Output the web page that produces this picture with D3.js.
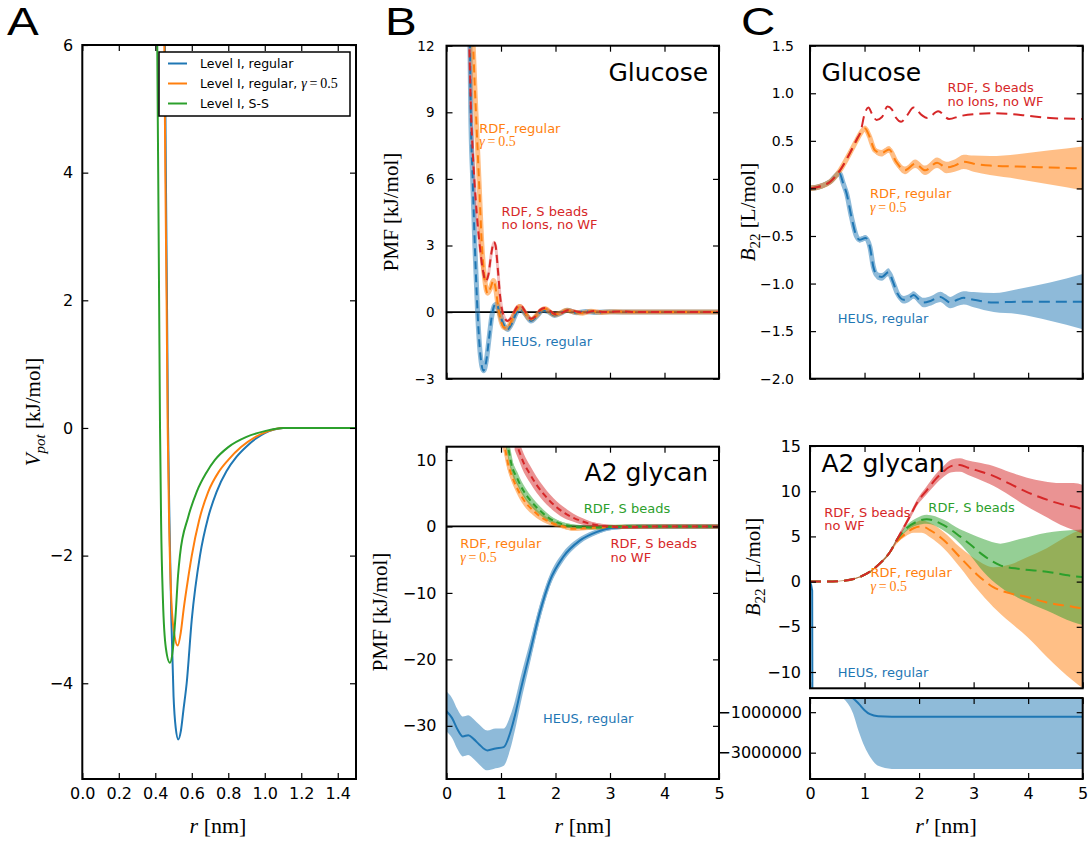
<!DOCTYPE html>
<html>
<head>
<meta charset="utf-8">
<script src="https://cdn.jsdelivr.net/npm/d3@7"></script>
<style>
  body { margin: 0; background: #fff; }
  svg { display: block; }
</style>
</head>
<body>
<svg id="fig" width="1091" height="845"></svg>
<script>
// ---------- data ----------
// panel A: pair potentials, [r nm, V kJ/mol]
var potRegular = [[0.445,9],[0.452,6.3],[0.458,4],[0.464,2],[0.47,0],[0.478,-1.5],[0.488,-3],[0.5,-4.2],[0.512,-4.7],[0.526,-4.88],[0.54,-4.75],[0.555,-4.4],[0.572,-4.0],[0.6,-3.0],[0.645,-2.0],[0.69,-1.4],[0.736,-1.0],[0.79,-0.68],[0.846,-0.45],[0.9,-0.29],[0.95,-0.17],[1.0,-0.08],[1.05,-0.025],[1.1,0],[1.5,0]];
var potGamma = [[0.444,9],[0.449,6.3],[0.455,4],[0.462,2],[0.468,0],[0.476,-1.5],[0.488,-2.7],[0.505,-3.25],[0.523,-3.41],[0.54,-3.2],[0.555,-2.85],[0.575,-2.45],[0.6,-2.0],[0.64,-1.45],[0.69,-1.0],[0.745,-0.7],[0.8,-0.5],[0.87,-0.3],[0.95,-0.14],[1.02,-0.05],[1.1,0],[1.5,0]];
var potSS = [[0.405,9],[0.41,6.3],[0.416,4],[0.421,2],[0.426,0],[0.432,-1.5],[0.442,-2.7],[0.458,-3.45],[0.48,-3.68],[0.497,-3.45],[0.512,-2.9],[0.525,-2.3],[0.535,-2.0],[0.58,-1.4],[0.627,-1.0],[0.68,-0.7],[0.727,-0.5],[0.8,-0.3],[0.9,-0.14],[1.0,-0.05],[1.1,0],[1.5,0]];
var legendA = ['Level I, regular', 'Level I, regular, ', 'Level I, S-S'];

// panel B top: glucose PMF, [r nm, PMF kJ/mol]
var pmfGluHeus = [[0.41,14],[0.43,12],[0.445,9],[0.48,6],[0.52,3],[0.57,0],[0.62,-1.9],[0.68,-2.64],[0.73,-2.2],[0.78,-1.2],[0.83,-0.2],[0.88,0.3],[0.92,0.37],[0.97,0.0],[1.03,-0.45],[1.12,-0.78],[1.2,-0.5],[1.28,-0.05],[1.35,0.15],[1.45,-0.1],[1.55,-0.4],[1.65,-0.2],[1.77,0.08],[1.88,0.0],[1.98,-0.15],[2.1,-0.05],[2.22,0.08],[2.38,-0.03],[2.55,0.03],[2.75,-0.02],[3.0,0.02],[3.4,0],[5,0]];
var pmfGluRdf = [[0.47,13.5],[0.49,12],[0.54,9],[0.595,6],[0.65,3],[0.7,1.5],[0.755,0.85],[0.81,1.1],[0.86,1.42],[0.9,1.1],[0.95,0.2],[1.0,-0.4],[1.06,-0.7],[1.12,-0.72],[1.18,-0.45],[1.26,0.0],[1.34,0.25],[1.42,0.05],[1.5,-0.25],[1.56,-0.33],[1.65,-0.15],[1.75,0.1],[1.82,0.15],[1.9,0.0],[1.98,-0.12],[2.08,-0.05],[2.2,0.08],[2.35,0.0],[2.5,-0.05],[2.65,0.04],[2.85,-0.02],[3.1,0.02],[3.5,0],[5,0]];
var pmfGluSbeads = [[0.41,13],[0.42,12],[0.45,9],[0.48,7.3],[0.51,6],[0.56,4.3],[0.61,3],[0.66,2.0],[0.72,1.4],[0.77,1.7],[0.82,2.6],[0.87,3.15],[0.9,3.0],[0.94,2.0],[0.98,0.8],[1.04,-0.1],[1.12,-0.4],[1.2,-0.2],[1.3,0.25],[1.36,0.3],[1.45,0.0],[1.55,-0.3],[1.63,-0.2],[1.72,0.1],[1.8,0.18],[1.9,0.05],[2.0,-0.1],[2.1,-0.05],[2.25,0.1],[2.4,0.02],[2.55,-0.03],[2.7,0.05],[2.9,0],[3.2,0.03],[3.5,0],[5,0]];

// panel B bottom: A2 glycan PMF, [r nm, PMF, error]
var pmfA2Heus = [[0,-27.8,3],[0.1,-28.8,3],[0.2,-30.5,3],[0.3,-31.6,3],[0.4,-31.4,3],[0.5,-32,3],[0.6,-32.8,3],[0.75,-33.7,3],[0.9,-33.4,3],[1.05,-33.2,2.8],[1.17,-31,2.5],[1.26,-28.3,2.2],[1.35,-25,2],[1.53,-19,1.6],[1.71,-13,1.2],[1.9,-8.1,0.9],[2.14,-4.6,0.7],[2.45,-2.1,0.5],[2.75,-0.85,0.4],[3.05,-0.2,0.3],[3.5,0,0.3],[4,0,0.3],[5,0,0.3]];
var pmfA2Rdf = [[1.03,13,1.2],[1.08,11.5,1.2],[1.13,9.4,1.1],[1.2,7.6,1.0],[1.27,6.2,0.9],[1.35,4.9,0.9],[1.45,3.6,0.8],[1.59,2.4,0.7],[1.7,1.6,0.6],[1.84,0.9,0.5],[1.95,0.45,0.4],[2.08,0.15,0.35],[2.2,-0.15,0.3],[2.32,-0.35,0.3],[2.5,-0.3,0.25],[2.7,-0.2,0.2],[3.0,-0.1,0.2],[3.4,0,0.2],[5,0,0.2]];
var pmfA2Sbeads = [[1.1,13,1.2],[1.14,11.5,1.2],[1.19,9.4,1.1],[1.3,7.2,1.0],[1.41,5.4,0.9],[1.53,4.0,0.8],[1.65,2.9,0.7],[1.78,1.9,0.6],[1.9,1.15,0.5],[2.02,0.65,0.4],[2.14,0.3,0.35],[2.3,0.05,0.3],[2.45,-0.1,0.25],[2.7,-0.15,0.2],[3.0,-0.05,0.2],[3.4,0,0.2],[5,0,0.2]];
var pmfA2SbeadsNoWF = [[1.25,13,1.5],[1.32,11.6,1.5],[1.42,9.5,1.4],[1.53,7.9,1.3],[1.65,6.3,1.2],[1.78,4.9,1.1],[1.9,3.8,1.0],[2.02,2.9,0.9],[2.17,2.0,0.8],[2.33,1.3,0.6],[2.48,0.8,0.5],[2.63,0.4,0.4],[2.8,0.15,0.3],[2.94,0.0,0.25],[3.2,-0.1,0.2],[3.6,-0.05,0.2],[4,0,0.2],[5,0,0.2]];

// panel C top: glucose B22, [r' nm, B22 L/mol, error]
var b22GluHeus = [[0,0,0.03],[0.18,0.02,0.03],[0.37,0.07,0.03],[0.54,0.16,0.03],[0.61,0.05,0.03],[0.67,-0.05,0.03],[0.76,-0.3,0.03],[0.85,-0.5,0.03],[0.91,-0.54,0.03],[1.02,-0.52,0.03],[1.1,-0.62,0.03],[1.16,-0.82,0.03],[1.24,-0.92,0.04],[1.32,-0.93,0.04],[1.44,-0.88,0.04],[1.52,-0.98,0.04],[1.6,-1.1,0.04],[1.72,-1.17,0.04],[1.82,-1.15,0.04],[1.9,-1.12,0.04],[2.0,-1.17,0.045],[2.08,-1.2,0.05],[2.22,-1.18,0.05],[2.39,-1.14,0.055],[2.48,-1.17,0.06],[2.57,-1.2,0.06],[2.7,-1.17,0.065],[2.82,-1.15,0.07],[3.0,-1.17,0.08],[3.37,-1.2,0.1],[3.8,-1.19,0.13],[4.4,-1.19,0.2],[5,-1.19,0.29]];
var b22GluRdf = [[0,0,0.03],[0.18,0.02,0.03],[0.37,0.07,0.03],[0.55,0.19,0.03],[0.73,0.37,0.03],[0.86,0.51,0.03],[0.95,0.6,0.03],[1.01,0.63,0.03],[1.08,0.56,0.03],[1.19,0.4,0.03],[1.31,0.37,0.035],[1.45,0.41,0.035],[1.58,0.28,0.04],[1.74,0.19,0.04],[1.93,0.26,0.045],[2.11,0.19,0.05],[2.33,0.27,0.055],[2.5,0.22,0.06],[2.65,0.24,0.065],[2.82,0.28,0.075],[3.0,0.26,0.085],[3.3,0.24,0.1],[3.8,0.23,0.13],[4.4,0.22,0.18],[5,0.21,0.23]];
var b22GluSbeads = [[0,0],[0.18,0.02],[0.37,0.07],[0.55,0.19],[0.73,0.37],[0.86,0.52],[0.93,0.6],[1.0,0.78],[1.07,0.85],[1.14,0.78],[1.22,0.72],[1.32,0.75],[1.42,0.86],[1.5,0.83],[1.58,0.74],[1.67,0.7],[1.77,0.76],[1.9,0.85],[2.05,0.77],[2.15,0.74],[2.35,0.81],[2.55,0.73],[2.75,0.76],[3.0,0.78],[3.4,0.79],[3.9,0.77],[4.4,0.74],[5,0.73]];

// panel C bottom: A2 glycan B22, [r' nm, B22 L/mol, error]
var b22A2Rdf = [[0,0,0],[0.3,0.01,0],[0.61,0.1,0.02],[0.92,0.53,0.05],[1.1,1.1,0.08],[1.28,2.0,0.1],[1.47,3.3,0.15],[1.59,4.4,0.2],[1.75,5.3,0.3],[1.9,5.9,0.5],[2.05,6.1,0.7],[2.2,5.7,0.8],[2.45,4.6,0.9],[2.75,2.7,1.1],[3.06,0.8,1.6],[3.36,-0.6,2.2],[3.67,-1.3,3.2],[3.98,-1.7,4.4],[4.34,-2.3,6.0],[4.83,-2.8,8.2],[5,-3.0,8.8]];
var b22A2Sbeads = [[0,0,0],[0.3,0.01,0],[0.61,0.1,0.02],[0.92,0.53,0.05],[1.1,1.1,0.08],[1.28,2.0,0.1],[1.47,3.3,0.15],[1.59,4.6,0.2],[1.75,5.8,0.3],[1.95,6.6,0.4],[2.14,6.9,0.5],[2.45,6.25,0.6],[2.75,5.0,0.8],[2.94,4.1,1.2],[3.18,2.9,1.8],[3.49,1.8,2.4],[3.85,1.4,3.3],[4.34,1.1,4.3],[4.83,0.6,5.1],[5,0.5,5.3]];
var b22A2SbeadsNoWF = [[0,0,0],[0.3,0.01,0],[0.61,0.1,0.02],[0.92,0.53,0.05],[1.1,1.1,0.08],[1.28,2.0,0.1],[1.47,3.3,0.15],[1.59,4.6,0.2],[1.71,5.9,0.25],[1.83,7.2,0.3],[1.96,8.7,0.35],[2.14,10.1,0.45],[2.3,11.3,0.55],[2.45,12.2,0.6],[2.6,12.8,0.7],[2.75,12.9,0.75],[2.9,12.6,0.8],[3.06,12.3,0.9],[3.36,11.7,1.1],[3.67,10.8,1.3],[3.98,9.9,1.6],[4.28,9.2,1.9],[4.59,8.6,2.3],[4.83,8.3,2.6],[5,8.0,2.7]];
var b22A2Heus = [[0,0],[0.04,-1],[0.07,-100],[0.2,-3000],[0.4,-30000],[0.6,-120000],[0.7,-220000],[0.78,-300000],[0.9,-600000],[1.0,-900000],[1.1,-1100000],[1.25,-1200000],[1.5,-1220000],[5,-1220000]];
var b22A2HeusLow = [[0,0],[0.2,-4000],[0.4,-40000],[0.6,-300000],[0.7,-600000],[0.78,-1000000],[0.9,-2000000],[1.0,-2700000],[1.1,-3200000],[1.25,-3650000],[1.5,-3800000],[5,-3800000]];

var ticksR = [0, 0.2, 0.4, 0.6, 0.8, 1.0, 1.2, 1.4];
var ticksPot = [-4, -2, 0, 2, 4, 6];
var ticks05 = [0, 1, 2, 3, 4, 5];
var ticksPmfGlu = [-3, 0, 3, 6, 9, 12];
var ticksPmfA2 = [-30, -20, -10, 0, 10];
var ticksB22Glu = [-2, -1.5, -1, -0.5, 0, 0.5, 1, 1.5];
var ticksB22A2 = [-10, -5, 0, 5, 10, 15];
var ticksB22Big = [-3000000, -1000000];

// ---------- drawing ----------
var blue = '#1f77b4', orange = '#ff7f0e', green = '#2ca02c', red = '#d62728';
var svg = d3.select('#fig');
var SANS = '"DejaVu Sans", sans-serif', SERIF = '"Liberation Serif", "DejaVu Serif", serif';

function makePanel(id, box, xDom, yDom) {
  var w = box[2] - box[0], h = box[3] - box[1];
  var g = svg.append('g').attr('transform', 'translate(' + box[0] + ',' + box[1] + ')');
  g.append('clipPath').attr('id', 'clip-' + id).append('rect').attr('width', w).attr('height', h);
  var plot = g.append('g').attr('clip-path', 'url(#clip-' + id + ')');
  return {
    g: g, plot: plot, w: w, h: h,
    x: d3.scaleLinear().domain(xDom).range([0, w]),
    y: d3.scaleLinear().domain(yDom).range([h, 0])
  };
}

function blank() { return ''; }

function styleAxis(sel) {
  sel.select('.domain').remove();
  sel.selectAll('line').attr('stroke', '#000').attr('stroke-width', 1.2);
  sel.selectAll('text').attr('fill', '#000').attr('font-size', 16).attr('font-family', SANS);
}

// o: {xf, yf, yfs (font size), ypad}
function drawAxes(p, xt, yt, o) {
  var g = p.g;
  g.append('g').attr('transform', 'translate(0,' + p.h + ')')
    .call(d3.axisBottom(p.x).tickValues(xt).tickSize(-6).tickPadding(9).tickFormat(o.xf || blank)).call(styleAxis);
  g.append('g').call(d3.axisTop(p.x).tickValues(xt).tickSize(-6).tickFormat(blank)).call(styleAxis);
  var left = g.append('g')
    .call(d3.axisLeft(p.y).tickValues(yt).tickSize(-6).tickPadding(o.ypad || 9).tickFormat(o.yf || blank)).call(styleAxis);
  if (o.yfs) left.selectAll('text').attr('font-size', o.yfs);
  g.append('g').attr('transform', 'translate(' + p.w + ',0)')
    .call(d3.axisRight(p.y).tickValues(yt).tickSize(-6).tickFormat(blank)).call(styleAxis);
  g.append('rect').attr('width', p.w).attr('height', p.h)
    .attr('fill', 'none').attr('stroke', '#000').attr('stroke-width', 2);
}

function lineGen(p) {
  return d3.line().x(function(d) { return p.x(d[0]); }).y(function(d) { return p.y(d[1]); }).curve(d3.curveMonotoneX);
}

function areaGen(p) {
  return d3.area().x(function(d) { return p.x(d[0]); })
    .y0(function(d) { return p.y(d[1] - d[2]); })
    .y1(function(d) { return p.y(d[1] + d[2]); })
    .curve(d3.curveMonotoneX);
}

// error band: filled area plus a wide pale stroke, composited as one layer
function band(p, data, color, sw, op) {
  var g = p.plot.append('g').attr('opacity', op || 0.5);
  if (data[0].length > 2) g.append('path').datum(data).attr('d', areaGen(p)).attr('fill', color);
  if (sw) g.append('path').datum(data).attr('d', lineGen(p))
    .attr('fill', 'none').attr('stroke', color).attr('stroke-width', sw).attr('stroke-linejoin', 'round');
}

function curve(p, data, color, dash, sw) {
  p.plot.append('path').datum(data).attr('d', lineGen(p))
    .attr('fill', 'none').attr('stroke', color).attr('stroke-width', sw || 2)
    .attr('stroke-dasharray', dash || null);
}

function zeroLine(p) {
  p.plot.append('line').attr('x1', 0).attr('x2', p.w).attr('y1', p.y(0)).attr('y2', p.y(0))
    .attr('stroke', '#000').attr('stroke-width', 1.8);
}

function gammaText(t) {
  t.append('tspan').attr('font-style', 'italic').text('γ');
  t.append('tspan').text('\u2009=\u20090.5');
}

function note(p, xv, yv, color, lines, gammaLine) {
  lines.forEach(function(s, i) {
    var t = p.g.append('text').attr('x', p.x(xv)).attr('y', p.y(yv) + i * 13.4)
      .attr('fill', color).attr('font-size', 13).attr('font-family', SANS);
    if (gammaLine && i === 1) { t.attr('font-family', SERIF).attr('font-size', 14); gammaText(t); }
    else t.text(s);
  });
}

function title(p, xv, yv, s, anchor) {
  p.g.append('text').attr('x', p.x(xv)).attr('y', p.y(yv)).attr('text-anchor', anchor || 'start')
    .attr('font-size', 25).attr('font-family', SANS).text(s);
}

var fmt1 = d3.format('.1f'), fmtInt = d3.format('d');

// ---- panel A ----
var pA = makePanel('A', [82.3, 45, 356, 779], [0, 1.5], [-5.5, 6]);
curve(pA, potRegular, blue);
curve(pA, potGamma, orange);
curve(pA, potSS, green);
drawAxes(pA, ticksR, ticksPot, {xf: fmt1, yf: fmtInt});

var leg = pA.g.append('g').attr('transform', 'translate(' + (159 - 82.3) + ',' + (52 - 45) + ')');
leg.append('rect').attr('width', 191).attr('height', 64).attr('fill', '#fff')
  .attr('stroke', '#000').attr('stroke-width', 1.5);
[blue, orange, green].forEach(function(c, i) {
  var yy = 11.5 + i * 20;
  leg.append('line').attr('x1', 9).attr('x2', 28).attr('y1', yy).attr('y2', yy)
    .attr('stroke', c).attr('stroke-width', 2);
  var t = leg.append('text').attr('x', 41).attr('y', yy).attr('dy', '0.36em')
    .attr('font-size', 12.5).attr('font-family', SANS).text(legendA[i]);
  if (i === 1) {
    var m = t.append('tspan').attr('font-family', SERIF).attr('font-size', 14);
    m.append('tspan').attr('font-style', 'italic').text('γ');
    m.append('tspan').text('\u2009=\u20090.5');
  }
});

// ---- panel B top: glucose PMF ----
var pB1 = makePanel('B1', [446.5, 45.7, 719, 378.7], [0, 5], [-3, 12]);
zeroLine(pB1);
band(pB1, pmfGluHeus, blue, 5);
band(pB1, pmfGluSbeads, red, 3, 0.3);
band(pB1, pmfGluRdf, orange, 5);
curve(pB1, pmfGluHeus, blue, '8,5');
curve(pB1, pmfGluRdf, orange, '8,5');
curve(pB1, pmfGluSbeads, red, '8,5');
drawAxes(pB1, ticks05, ticksPmfGlu, {yf: fmtInt, yfs: 13.5, ypad: 12});
title(pB1, 4.8, 10.42, 'Glucose', 'end');
note(pB1, 0.6, 8.08, orange, ['RDF, regular', ''], true);
note(pB1, 1.01, 4.33, red, ['RDF, S beads', 'no Ions, no WF']);
note(pB1, 1.01, -1.53, blue, ['HEUS, regular']);

// ---- panel B bottom: A2 glycan PMF ----
var pB2 = makePanel('B2', [446.5, 446.7, 719, 779], [0, 5], [-38, 12]);
zeroLine(pB2);
band(pB2, pmfA2Heus, blue, 4);
band(pB2, pmfA2Rdf, orange, 4);
band(pB2, pmfA2Sbeads, green, 4);
band(pB2, pmfA2SbeadsNoWF, red, 4);
curve(pB2, pmfA2Heus, blue, null, 2);
curve(pB2, pmfA2Rdf, orange, '6,4');
curve(pB2, pmfA2Sbeads, green, '6,4');
curve(pB2, pmfA2SbeadsNoWF, red, '6,4');
drawAxes(pB2, ticks05, ticksPmfA2, {xf: fmtInt, yf: fmtInt, ypad: 10});
title(pB2, 4.8, 6.88, 'A2 glycan', 'end');
note(pB2, 2.52, 2.07, green, ['RDF, S beads']);
note(pB2, 0.25, -3.29, orange, ['RDF, regular', ''], true);
note(pB2, 3.01, -3.29, red, ['RDF, S beads', 'no WF']);
note(pB2, 1.77, -29.53, blue, ['HEUS, regular']);

// ---- panel C top: glucose B22 ----
var pC1 = makePanel('C1', [810, 45.7, 1082.7, 378.7], [0, 5], [-2, 1.5]);
band(pC1, b22GluHeus, blue, 5);
band(pC1, b22GluRdf, orange, 5);
curve(pC1, b22GluHeus, blue, '11,6');
curve(pC1, b22GluRdf, orange, '11,6');
curve(pC1, b22GluSbeads, red, '11,6');
drawAxes(pC1, ticks05, ticksB22Glu, {yf: fmt1, yfs: 14, ypad: 16});
title(pC1, 0.21, 1.13, 'Glucose');
note(pC1, 2.52, 1.01, red, ['RDF, S beads', 'no Ions, no WF']);
note(pC1, 1.10, -0.104, orange, ['RDF, regular', ''], true);
note(pC1, 0.51, -1.41, blue, ['HEUS, regular']);

// ---- panel C bottom: A2 glycan B22 (main + broken lower axis) ----
var pC2 = makePanel('C2', [810, 446, 1082.7, 688.3], [0, 5], [-11.8, 15]);
band(pC2, b22A2Rdf, orange, 0);
band(pC2, b22A2Sbeads, green, 0);
band(pC2, b22A2SbeadsNoWF, red, 0);
curve(pC2, b22A2Rdf, orange, '11,6');
curve(pC2, b22A2Sbeads, green, '11,6');
curve(pC2, b22A2SbeadsNoWF, red, '11,6');
curve(pC2, b22A2Heus, blue, null, 2);
drawAxes(pC2, ticks05, ticksB22A2, {yf: fmtInt});
title(pC2, 0.21, 12.16, 'A2 glycan');
note(pC2, 0.26, 7.18, red, ['RDF, S beads', 'no WF']);
note(pC2, 2.17, 7.73, green, ['RDF, S beads']);
note(pC2, 1.11, 0.48, orange, ['RDF, regular', ''], true);
note(pC2, 0.51, -10.59, blue, ['HEUS, regular']);

var pC3 = makePanel('C3', [810, 698, 1082.7, 779], [0, 5], [-4300000, -300000]);
pC3.plot.append('path').datum(b22A2HeusLow)
  .attr('d', d3.area().x(function(d) { return pC3.x(d[0]); })
    .y0(function(d) { return pC3.y(d[1]); }).y1(0).curve(d3.curveMonotoneX))
  .attr('fill', blue).attr('opacity', 0.5);
curve(pC3, b22A2Heus, blue, null, 2);
drawAxes(pC3, ticks05, ticksB22Big, {xf: fmtInt, yf: fmtInt, ypad: 8});

// ---------- labels ----------
function panelLetter(x, s) {
  svg.append('text').attr('transform', 'translate(' + x + ',35) scale(1.22,1)')
    .attr('font-size', 39).attr('font-family', '"Liberation Sans", sans-serif').text(s);
}
panelLetter(7, 'A');
panelLetter(385, 'B');
panelLetter(741, 'C');

function xLabel(cx, prime) {
  var t = svg.append('text').attr('x', cx).attr('y', 833).attr('text-anchor', 'middle')
    .attr('font-size', 22).attr('font-family', SERIF);
  t.append('tspan').attr('font-style', 'italic').text(prime ? 'r\u2032' : 'r');
  t.append('tspan').text(' [nm]');
}
xLabel(218, false);
xLabel(583, false);
xLabel(946, true);

function yLabel(x, cy) {
  return svg.append('text').attr('transform', 'translate(' + x + ',' + cy + ') rotate(-90)')
    .attr('text-anchor', 'middle').attr('font-size', 21).attr('font-family', SERIF);
}
var yA = yLabel(40, 412);
yA.append('tspan').attr('font-style', 'italic').text('V');
yA.append('tspan').attr('font-style', 'italic').attr('font-size', 15).attr('dy', 5).text('pot');
yA.append('tspan').attr('dy', -5).text(' [kJ/mol]');

yLabel(398, 212).text('PMF [kJ/mol]');
yLabel(387, 612).text('PMF [kJ/mol]');

[[755, 212], [760, 567]].forEach(function(pos) {
  var t = yLabel(pos[0], pos[1]);
  t.append('tspan').attr('font-style', 'italic').text('B');
  t.append('tspan').attr('font-size', 15).attr('dy', 5).text('22');
  t.append('tspan').attr('dy', -5).text(' [L/mol]');
});
</script>
</body>
</html>
